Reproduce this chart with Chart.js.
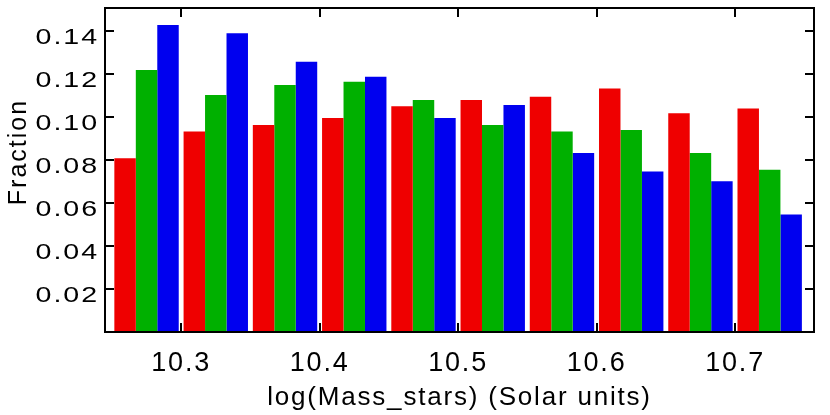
<!DOCTYPE html>
<html>
<head>
<meta charset="utf-8">
<script src="https://cdn.jsdelivr.net/npm/chart.js@4/dist/chart.umd.min.js"></script>
<style>
  html, body { margin: 0; background: #fff; }
  #wrap { width: 830px; height: 415px; }
</style>
</head>
<body>
<div id="wrap"><canvas id="chart"></canvas></div>
<script>
// bin centres of log(Mass_stars), 0.05 wide bins
const binCenters = [10.275, 10.325, 10.375, 10.425, 10.475, 10.525, 10.575, 10.625, 10.675, 10.725];
const redValues   = [0.0808, 0.0933, 0.0963, 0.0995, 0.1050, 0.1079, 0.1094, 0.1133, 0.1017, 0.1040];
const greenValues = [0.1219, 0.1102, 0.1149, 0.1164, 0.1079, 0.0963, 0.0933, 0.0940, 0.0833, 0.0755];
const blueValues  = [0.1428, 0.1389, 0.1257, 0.1187, 0.0995, 0.1056, 0.0833, 0.0747, 0.0701, 0.0547];
const xTickValues = [10.3, 10.4, 10.5, 10.6, 10.7];
const yTickValues = [0.02, 0.04, 0.06, 0.08, 0.10, 0.12, 0.14];

const FONT = "'Liberation Sans', Arial, Helvetica, sans-serif";

function toPoints(values) {
  return values.map((v, i) => ({ x: binCenters[i], y: v }));
}

function makeDataset(values, color) {
  return {
    data: toPoints(values),
    backgroundColor: color,
    borderWidth: 0,
    categoryPercentage: 0.93,
    barPercentage: 1.0,
  };
}

// box, inward ticks, y labels and y title
const framePlugin = {
  id: "frame",
  beforeDraw(chart) {
    chart.ctx.letterSpacing = "1.8px";
  },
  afterDraw(chart) {
    const ctx = chart.ctx;
    const area = chart.chartArea;
    const xs = chart.scales.x;
    const ys = chart.scales.y;
    const tick = 9;

    ctx.save();
    ctx.strokeStyle = "#000";
    ctx.lineWidth = 2;
    ctx.strokeRect(area.left, area.top, area.right - area.left, area.bottom - area.top);

    ctx.beginPath();
    xs.ticks.forEach(t => {
      const px = Math.round(xs.getPixelForValue(t.value));
      ctx.moveTo(px, area.bottom);
      ctx.lineTo(px, area.bottom - tick);
      ctx.moveTo(px, area.top);
      ctx.lineTo(px, area.top + tick);
    });
    ys.ticks.forEach(t => {
      const py = Math.round(ys.getPixelForValue(t.value));
      ctx.moveTo(area.left, py);
      ctx.lineTo(area.left + tick, py);
      ctx.moveTo(area.right, py);
      ctx.lineTo(area.right - tick, py);
    });
    ctx.stroke();

    // y tick labels, drawn stretched sideways like the original
    ctx.fillStyle = "#000";
    ctx.font = "22px " + FONT;
    ctx.letterSpacing = "1.5px";
    ctx.textAlign = "right";
    ctx.textBaseline = "middle";
    ys.ticks.forEach(t => {
      const py = ys.getPixelForValue(t.value);
      ctx.save();
      ctx.translate(area.left - 6, py + 7);
      ctx.scale(1.3, 1);
      ctx.fillText(t.value.toFixed(2), 0, 0);
      ctx.restore();
    });

    // y title
    ctx.letterSpacing = "2px";
    ctx.font = "25px " + FONT;
    ctx.translate(26, 152);
    ctx.rotate(-Math.PI / 2);
    ctx.textAlign = "center";
    ctx.textBaseline = "alphabetic";
    ctx.fillText("Fraction", 0, 0);
    ctx.restore();
  }
};

const config = {
  type: "bar",
  data: {
    datasets: [
      makeDataset(redValues, "#ef0000"),
      makeDataset(greenValues, "#00b000"),
      makeDataset(blueValues, "#0000ef"),
    ],
  },
  options: {
    responsive: true,
    maintainAspectRatio: false,
    animation: false,
    layout: { padding: { top: 8, right: 16, left: 0, bottom: 0 } },
    plugins: {
      legend: { display: false },
      tooltip: { enabled: false },
    },
    scales: {
      x: {
        type: "linear",
        offset: false,
        min: 10.245,
        max: 10.757,
        afterBuildTicks: scale => {
          scale.ticks = xTickValues.map(v => ({ value: v }));
        },
        afterFit: scale => { scale.height = 83; },
        grid: { display: false, drawTicks: false, offset: false },
        border: { display: false },
        ticks: {
          color: "#000",
          font: { family: FONT, size: 27 },
          padding: 15,
          maxRotation: 0,
          autoSkip: false,
          callback: v => v.toFixed(1),
        },
        title: {
          display: true,
          text: "log(Mass_stars) (Solar units)",
          color: "#000",
          font: { family: FONT, size: 26 },
          padding: { top: 0, bottom: 2 },
        },
      },
      y: {
        min: 0,
        max: 0.1507,
        afterBuildTicks: scale => {
          scale.ticks = yTickValues.map(v => ({ value: v }));
        },
        afterFit: scale => { scale.width = 105; },
        grid: { display: false, drawTicks: false },
        border: { display: false },
        ticks: { display: false },
      },
    },
  },
  plugins: [framePlugin],
};

const myChart = new Chart(document.getElementById("chart"), config);
</script>
</body>
</html>
